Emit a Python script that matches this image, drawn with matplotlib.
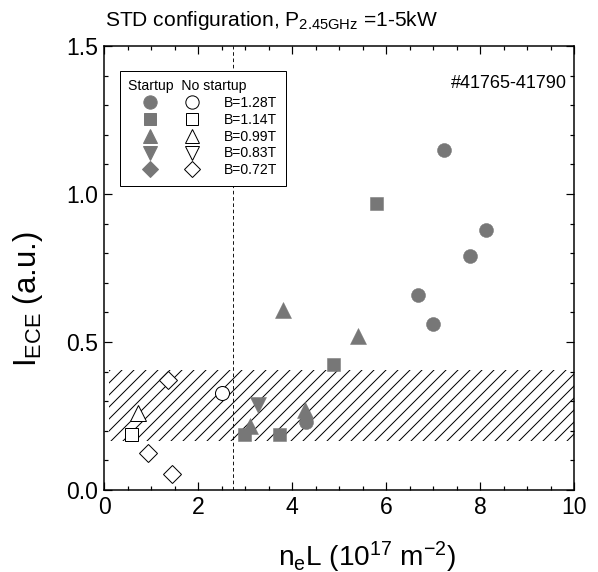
import matplotlib
matplotlib.use("Agg")
import matplotlib.pyplot as plt
from matplotlib.lines import Line2D
from matplotlib.legend_handler import HandlerTuple
from matplotlib.ticker import MultipleLocator

plt.rcParams["font.family"] = ["Liberation Sans", "DejaVu Sans"]
plt.rcParams["mathtext.fontset"] = "custom"
plt.rcParams["mathtext.rm"] = "Liberation Sans"
plt.rcParams["mathtext.it"] = "Liberation Sans"
plt.rcParams["mathtext.default"] = "regular"
plt.rcParams["hatch.linewidth"] = 1.0

# --- data (n_e L in 1e17 m^-2, I_ECE in a.u.) ---
fields = ["B=1.28T", "B=1.14T", "B=0.99T", "B=0.83T", "B=0.72T"]
markers = ["o", "s", "^", "v", "D"]

# startup (filled)
st_circle_x = [7.24, 8.12, 7.78, 6.67, 6.99, 4.29]
st_circle_y = [1.15, 0.88, 0.79, 0.66, 0.56, 0.23]
st_square_x = [5.78, 4.88, 3.72, 2.97]
st_square_y = [0.97, 0.425, 0.19, 0.19]
st_tri_x = [3.80, 5.41, 3.10, 4.28]
st_tri_y = [0.608, 0.52, 0.215, 0.27]
st_dtri_x = [3.28]
st_dtri_y = [0.287]
st_diam_x = []
st_diam_y = []

# no startup (open)
ns_circle_x = [2.50]
ns_circle_y = [0.329]
ns_square_x = [0.57]
ns_square_y = [0.189]
ns_tri_x = [0.73]
ns_tri_y = [0.259]
ns_dtri_x = []
ns_dtri_y = []
ns_diam_x = [1.37, 0.93, 1.44]
ns_diam_y = [0.372, 0.124, 0.054]

# hatched band and density threshold
band_lo, band_hi = 0.165, 0.405
band_x0, band_x1 = 0.1, 10.0
threshold_x = 2.74

GRAY = "#777777"
MSIZE = {"o": 14, "s": 13, "^": 15.5, "v": 15.5, "D": 12.5}

fig = plt.figure(figsize=(598 / 72, 572 / 72), dpi=72)
ax = fig.add_axes([0.174, 0.1434, 0.786, 0.7762])

ax.fill_between([band_x0, band_x1], band_lo, band_hi, facecolor="none",
                edgecolor="black", hatch="//", linewidth=0, zorder=1)
ax.axvline(threshold_x, color="black", lw=0.9, ls=(0, (4, 3)), zorder=1)

filled = [(st_circle_x, st_circle_y), (st_square_x, st_square_y),
          (st_tri_x, st_tri_y), (st_dtri_x, st_dtri_y), (st_diam_x, st_diam_y)]
opened = [(ns_circle_x, ns_circle_y), (ns_square_x, ns_square_y),
          (ns_tri_x, ns_tri_y), (ns_dtri_x, ns_dtri_y), (ns_diam_x, ns_diam_y)]

for m, (xs, ys) in zip(markers, filled):
    ax.plot(xs, ys, ls="none", marker=m, ms=MSIZE[m], mfc=GRAY, mec=GRAY,
            mew=0.5, zorder=3)
for m, (xs, ys) in zip(markers, opened):
    ax.plot(xs, ys, ls="none", marker=m, ms=MSIZE[m], mfc="white",
            mec="black", mew=1.0, zorder=3)

ax.set_xlim(0, 10)
ax.set_ylim(0, 1.5)
ax.xaxis.set_major_locator(MultipleLocator(2))
ax.xaxis.set_minor_locator(MultipleLocator(0.5))
ax.yaxis.set_major_locator(MultipleLocator(0.5))
ax.yaxis.set_minor_locator(MultipleLocator(0.1))
ax.yaxis.set_major_formatter(plt.FuncFormatter(lambda v, p: f"{v:.1f}"))
ax.tick_params(which="both", direction="in", top=True, right=True,
               labelsize=23, width=1.2)
ax.tick_params(which="major", length=8, pad=6)
ax.tick_params(which="minor", length=4)
for s in ax.spines.values():
    s.set_linewidth(1.5)

ax.set_xlabel(r"n$_e$L (10$^{17}$ m$^{-2}$)", fontsize=28)
ax.xaxis.label.set_va("baseline")
ax.xaxis.set_label_coords(0.56, -0.173)
ax.set_ylabel(r"I$_{ECE}$ (a.u.)", fontsize=31)
ax.yaxis.set_label_coords(-0.126, 0.43)
fig.text(0.176, 0.955, r"STD configuration, P$_{2.45GHz}$ =1-5kW",
         fontsize=21, ha="left", va="baseline")
ax.text(0.984, 0.935, "#41765-41790", transform=ax.transAxes,
        fontsize=18, ha="right", va="top")

handles = []
for m in markers:
    h1 = Line2D([], [], ls="none", marker=m, ms=MSIZE[m] * 0.95, mfc=GRAY,
                mec=GRAY)
    h2 = Line2D([], [], ls="none", marker=m, ms=MSIZE[m] * 0.95,
                mfc="white", mec="black", mew=1.0)
    handles.append((h1, h2))
leg = ax.legend(handles, fields, loc="upper left",
                bbox_to_anchor=(0.034, 0.944), borderaxespad=0,
                handler_map={tuple: HandlerTuple(ndivide=None, pad=0)},
                handlelength=6.1, handletextpad=0.75, borderpad=0.6,
                labelspacing=0.2, fontsize=14, fancybox=False,
                framealpha=1, edgecolor="black",
                title="Startup  No startup", title_fontsize=14,
                alignment="left")
leg.get_frame().set_linewidth(1.0)

fig.savefig("out.png", dpi=72)
